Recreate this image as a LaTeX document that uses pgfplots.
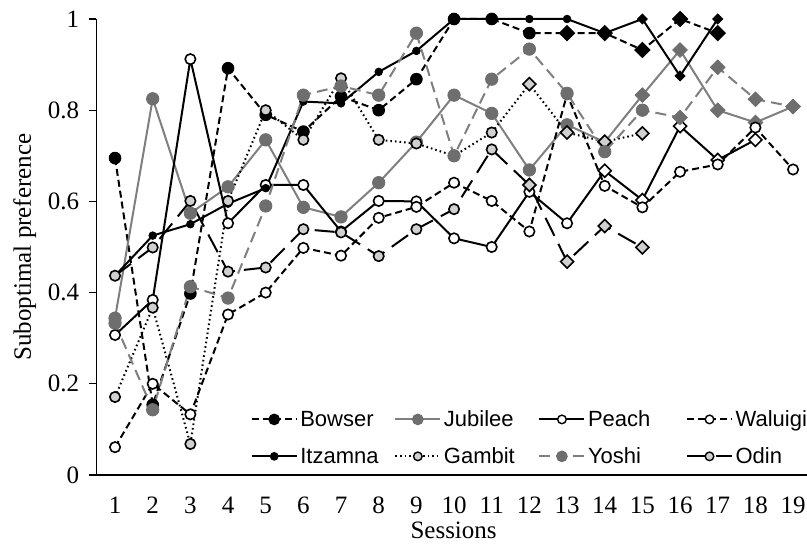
\documentclass[border=0pt]{standalone}
\usepackage{fontspec}
\setmainfont{Liberation Serif}
\newfontfamily\legfont{Liberation Sans}
\usepackage{pgfplots}
\pgfplotsset{compat=1.18}
\definecolor{dg}{HTML}{6E6E6E}
\definecolor{lg}{HTML}{D0D0D0}
\definecolor{gl}{HTML}{7F7F7F}
\pgfdeclareplotmark{dmd*}{%
 \pgfpathmoveto{\pgfqpoint{0pt}{\pgfplotmarksize}}%
 \pgfpathlineto{\pgfqpoint{\pgfplotmarksize}{0pt}}%
 \pgfpathlineto{\pgfqpoint{0pt}{-\pgfplotmarksize}}%
 \pgfpathlineto{\pgfqpoint{-\pgfplotmarksize}{0pt}}%
 \pgfpathclose\pgfusepathqfillstroke}
\tikzset{
 mBc/.style={mark=*, solid, mark size=5.8bp, draw=black, fill=black, line width=1bp},
 mBd/.style={mark=dmd*, solid, mark size=7.5bp, draw=black, fill=black, line width=1bp},
 mSc/.style={mark=*, solid, mark size=3.8bp, draw=black, fill=black, line width=0.8bp},
 mSd/.style={mark=dmd*, solid, mark size=5bp, draw=black, fill=black, line width=0.8bp},
 mDc/.style={mark=*, solid, mark size=6.2bp, draw=dg, fill=dg, line width=0.8bp},
 mDd/.style={mark=dmd*, solid, mark size=7.3bp, draw=dg, fill=dg, line width=0.8bp},
 mWc/.style={mark=*, solid, mark size=5.2bp, draw=black, fill=white, line width=1.6bp},
 mWd/.style={mark=dmd*, solid, mark size=6.5bp, draw=black, fill=white, line width=1.6bp},
 mLc/.style={mark=*, solid, mark size=5.2bp, draw=black, fill=lg, line width=1.6bp},
 mLd/.style={mark=dmd*, solid, mark size=6.5bp, draw=black, fill=lg, line width=1.6bp},
}
\pgfplotsset{
 cls/.style 2 args={scatter, scatter src=explicit symbolic, scatter/classes={c={#1}, d={#2}}},
}
\begin{document}
\begin{tikzpicture}
\begin{axis}[
 at={(96.2bp,69bp)}, anchor=south west,
 scale only axis, width=710.8bp, height=456bp,
 xmin=0.5, xmax=19.37, ymin=0, ymax=1,
 axis x line*=bottom, axis y line*=left,
 axis line style={line width=1.3bp, black},
 xtick={1,...,19}, ytick={0,0.2,0.4,0.6,0.8,1},
 /pgf/number format/assume math mode=true,
 tick label style={font=\fontsize{25bp}{30bp}\selectfont},
 label style={font=\fontsize{25bp}{30bp}\selectfont},
 tick align=outside, major tick length=7bp,
 tick style={line width=1.3bp, black},
 xtick style={draw=none},
 xticklabel style={anchor=north, inner sep=0pt, yshift=-15bp},
 yticklabel style={anchor=east, inner sep=0pt, xshift=-9.8bp},
 xlabel={Sessions}, ylabel={Suboptimal preference},
 xlabel style={at={(axis description cs:0.5,0)}, anchor=north, inner sep=0pt, yshift=-47.2bp, xshift=2bp},
 ylabel style={at={(axis description cs:-0.117,0.5)}, anchor=north, inner sep=0pt},
 clip=false,
 legend columns=4,
 legend cell align=left,
 legend style={at={(axis cs:4.602,0.141)}, anchor=north west, draw=none, fill=none,
   inner sep=0pt, outer sep=0pt, row sep=19.5bp, column sep=0bp,
   font=\legfont\fontsize{22bp}{26bp}\selectfont,
   nodes={inner sep=0pt, outer sep=0pt},
   /tikz/every odd column/.append style={column sep=2.6bp},
   /tikz/every even column/.append style={column sep=3bp}},
 legend image code/.code={\draw[#1, mark repeat=2, mark phase=2] plot coordinates {(0bp,0bp) (22.5bp,0bp) (45bp,0bp)};},
]
% Bowser
\addplot[forget plot, black, line width=2bp, dash pattern=on 7bp off 4bp, cls={mBc}{mBd}] table[meta=m]{
s v m
1 0.695 c
2 0.154 c
3 0.398 c
4 0.892 c
5 0.790 c
6 0.753 c
7 0.830 c
8 0.800 c
9 0.868 c
10 1.000 c
11 1.000 c
12 0.969 c
13 0.969 d
14 0.969 d
15 0.932 d
16 1.000 d
17 0.969 d
};
% Jubilee
\addplot[forget plot, gl, line width=2bp, cls={mDc}{mDd}] table[meta=m]{
s v m
1 0.344 c
2 0.825 c
3 0.574 c
4 0.632 c
5 0.735 c
6 0.587 c
7 0.566 c
8 0.641 c
9 0.730 c
10 0.833 c
11 0.793 c
12 0.669 c
13 0.768 c
14 0.730 d
15 0.833 d
16 0.932 d
17 0.800 d
18 0.773 d
19 0.808 d
};
% Peach
\addplot[forget plot, black, line width=2bp, cls={mWc}{mWd}] table[meta=m]{
s v m
1 0.307 c
2 0.384 c
3 0.912 c
4 0.552 c
5 0.636 c
6 0.636 c
7 0.534 c
8 0.601 c
9 0.600 c
10 0.519 c
11 0.500 c
12 0.621 c
13 0.552 c
14 0.667 d
15 0.603 d
16 0.765 d
17 0.691 d
18 0.735 d
};
% Waluigi
\addplot[forget plot, black, line width=2bp, dash pattern=on 7bp off 4bp, cls={mWc}{mWd}] table[meta=m]{
s v m
1 0.061 c
2 0.200 c
3 0.133 c
4 0.352 c
5 0.400 c
6 0.498 c
7 0.481 c
8 0.564 c
9 0.588 c
10 0.641 c
11 0.601 c
12 0.534 c
13 0.835 c
14 0.634 c
15 0.587 c
16 0.665 c
17 0.681 c
18 0.762 c
19 0.670 c
};
% Itzamna
\addplot[forget plot, black, line width=2bp, cls={mSc}{mSd}] table[meta=m]{
s v m
1 0.437 c
2 0.525 c
3 0.550 c
4 0.595 c
5 0.629 c
6 0.819 c
7 0.815 c
8 0.884 c
9 0.930 c
10 1.000 c
11 1.000 c
12 1.000 c
13 1.000 c
14 0.969 d
15 1.000 d
16 0.875 d
17 1.000 d
};
% Gambit
\addplot[forget plot, black, line width=2bp, dash pattern=on 1.6bp off 3bp, cls={mLc}{mLd}] table[meta=m]{
s v m
1 0.171 c
2 0.367 c
3 0.068 c
4 0.601 c
5 0.800 c
6 0.735 c
7 0.870 c
8 0.735 c
9 0.727 c
10 0.700 c
11 0.751 c
12 0.857 d
13 0.751 d
14 0.731 d
15 0.749 d
};
% Yoshi
\addplot[forget plot, gl, line width=2bp, dash pattern=on 11bp off 6bp, cls={mDc}{mDd}] table[meta=m]{
s v m
1 0.333 c
2 0.143 c
3 0.413 c
4 0.388 c
5 0.590 c
6 0.833 c
7 0.853 c
8 0.833 c
9 0.969 c
10 0.700 c
11 0.868 c
12 0.934 c
13 0.837 c
14 0.709 c
15 0.800 c
16 0.784 d
17 0.894 d
18 0.824 d
19 0.808 d
};
% Odin
\addplot[forget plot, black, line width=2bp, dash pattern=on 20bp off 9bp, cls={mLc}{mLd}] table[meta=m]{
s v m
1 0.437 c
2 0.499 c
3 0.601 c
4 0.446 c
5 0.455 c
6 0.539 c
7 0.532 c
8 0.480 c
9 0.539 c
10 0.583 c
11 0.714 c
12 0.636 d
13 0.468 d
14 0.546 d
15 0.499 d
};
\addlegendimage{black, line width=2bp, dash pattern=on 7bp off 4bp, mark=*, mark options={solid, mark size=4.8bp, draw=black, fill=black}}
\addlegendentry{\makebox[91bp][l]{Bowser}}
\addlegendimage{gl, line width=2bp, mark=*, mark options={solid, mark size=4.8bp, draw=dg, fill=dg}}
\addlegendentry{\makebox[91.5bp][l]{Jubilee}}
\addlegendimage{black, line width=2bp, mark=*, mark options={solid, mark size=4.3bp, draw=black, fill=white, line width=1.4bp}}
\addlegendentry{\makebox[95bp][l]{Peach}}
\addlegendimage{black, line width=2bp, dash pattern=on 7bp off 4bp, mark=*, mark options={solid, mark size=4.3bp, draw=black, fill=white, line width=1.4bp}}
\addlegendentry{Waluigi}
\addlegendimage{black, line width=2bp, mark=*, mark options={solid, mark size=3.3bp, draw=black, fill=black}}
\addlegendentry{\makebox[91bp][l]{Itzamna}}
\addlegendimage{black, line width=2bp, dash pattern=on 1.6bp off 3bp, mark=*, mark options={solid, mark size=4.3bp, draw=black, fill=lg, line width=1.4bp}}
\addlegendentry{\makebox[91.5bp][l]{Gambit}}
\addlegendimage{gl, line width=2bp, dash pattern=on 11bp off 6bp, mark=*, mark options={solid, mark size=4.8bp, draw=dg, fill=dg}}
\addlegendentry{\makebox[95bp][l]{Yoshi}}
\addlegendimage{black, line width=2bp, dash pattern=on 20bp off 9bp, mark=*, mark options={solid, mark size=4.3bp, draw=black, fill=lg, line width=1.4bp}}
\addlegendentry{Odin}
\end{axis}
\pgfresetboundingbox
\useasboundingbox (0,0) rectangle (807bp,544bp);
\end{tikzpicture}
\end{document}
